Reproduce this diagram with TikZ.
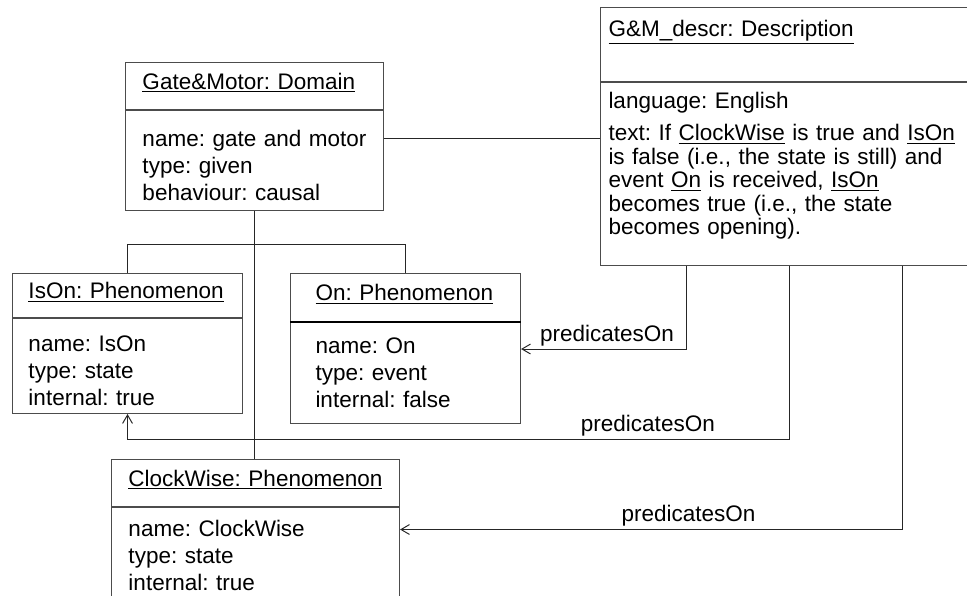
\documentclass[tikz,border=0pt]{standalone}
\usepackage{fontspec}
\setmainfont{Liberation Sans}
\frenchspacing
\usetikzlibrary{arrows.meta}

\begin{document}
\begin{tikzpicture}[x=0.025cm, y=-0.025cm,
        part/.style={draw=black!70, line width=0.7pt, rectangle, align=left,
            inner ysep=0pt, font=\fontsize{16}{19.2}\selectfont},
        head/.style={part, text depth=7pt},
        link/.style={draw=black!85, line width=0.7pt},
        pred/.style={link, -{Straight Barb[length=6pt, width=7pt]}},
        lbl/.style={font=\fontsize{16}{19.2}\selectfont, inner sep=2pt}]
        \clip (0, 0) rectangle (967, 595);

        \node[head, anchor=north west, text width=56mm, inner xsep=4.25mm,
            minimum height=11.75mm] (gmt) at (125, 62) {\underline{Gate\&Motor: Domain}};
        \node[part, anchor=north west, text width=56mm, inner xsep=4.25mm,
            minimum height=25mm, text depth=32pt] (gmb) at (gmt.south west)
            {name: gate and motor\\type: given\\behaviour: causal};

        \node[part, anchor=north west, text width=90.5mm, inner xsep=2mm, inner ysep=1mm,
            text height=17.8pt, text depth=29pt] (dst) at (600, 7) {\underline{G\&M\_descr: Description}};
        \node[part, anchor=north west, text width=90.5mm, inner xsep=2mm,
            minimum height=45.75mm, text depth=105pt, font=\fontsize{16}{16.7}\selectfont] (dsb) at (dst.south west)
            {language: English\\[6.5pt]
             text: If \underline{ClockWise} is true and \underline{IsOn}\\
             is false (i.e., the state is still) and\\
             event \underline{On} is received, \underline{IsOn}\\
             becomes true (i.e., the state\\
             becomes opening).};

        \node[head, anchor=north west, text width=49.5mm, inner xsep=4mm,
            minimum height=11mm] (isont) at (12, 273) {\underline{IsOn: Phenomenon}};
        \node[part, anchor=north west, text width=49.5mm, inner xsep=4mm,
            minimum height=23.75mm, text depth=32pt] (isonb) at (isont.south west)
            {name: IsOn\\type: state\\internal: true};

        \node[head, anchor=north west, text width=45mm, inner xsep=6.25mm,
            minimum height=12mm] (ont) at (290, 273) {\underline{On: Phenomenon}};
        \node[part, anchor=north west, text width=45mm, inner xsep=6.25mm,
            minimum height=25.25mm] (onb) at (ont.south west)
            {name: On\\type: event\\internal: false};
        \draw[line width=1.4pt] (ont.south west) -- (ont.south east);

        \node[head, anchor=north west, text width=63.5mm, inner xsep=4.25mm,
            minimum height=11.75mm] (cwt) at (111, 459) {\underline{ClockWise: Phenomenon}};
        \node[part, anchor=north west, text width=63.5mm, inner xsep=4.25mm,
            minimum height=23.5mm, text depth=37pt] (cwb) at (cwt.south west)
            {name: ClockWise\\type: state\\internal: true};

        \draw[link] ([shift={(0, -22)}]gmb.east) -- ([shift={(0, -22)}]gmb.east -| dsb.west);
        \draw[link] (isont.north) |- ([shift={(0, 33)}]gmb.south) -| (ont.north);
        \draw[link] (gmb.south) -- (gmb.south |- cwt.north);

        \draw[pred] ([shift={(-103, 0)}]dsb.south) |- node[lbl, pos=0.74, above] {predicatesOn}
            ([shift={(0, -24)}]onb.east);
        \draw[pred] (dsb.south) -- ++(0, 174) -| node[lbl, pos=0.107, above] {predicatesOn}
            (isonb.south);
        \draw[pred] ([shift={(113, 0)}]dsb.south) |- node[lbl, pos=0.713, above] {predicatesOn}
            ([shift={(0, -25)}]cwb.east);

    \end{tikzpicture}
\end{document}
